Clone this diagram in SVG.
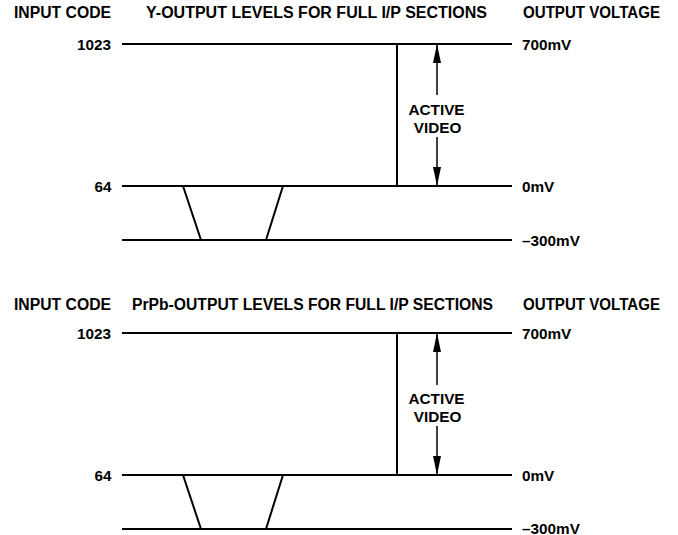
<svg xmlns="http://www.w3.org/2000/svg" width="678" height="535" viewBox="0 0 678 535">
<style>
.t{font-family:"Liberation Sans",Arial,sans-serif;font-weight:bold;font-size:15.3px;fill:#000}
.h{font-size:15.6px}
.e{text-anchor:end}
.m{text-anchor:middle}
.l{stroke:#000;stroke-width:2;fill:none}
.a{stroke:#000;stroke-width:1.5;fill:none;marker-end:url(#ah)}
</style>
<defs>
<marker id="ah" viewBox="0 0 19 8" refX="19" refY="4" markerWidth="19" markerHeight="8" markerUnits="userSpaceOnUse" orient="auto">
<path d="M0,0 L19,4 L0,8 z" fill="#000"/>
</marker>
</defs>
<rect width="678" height="535" fill="#fff"/>

<g id="y-section">
  <g id="y-headers">
    <text class="t h" x="14" y="18.3" textLength="97" lengthAdjust="spacingAndGlyphs">INPUT CODE</text>
    <text class="t h" x="146" y="18.3" textLength="341" lengthAdjust="spacingAndGlyphs">Y-OUTPUT LEVELS FOR FULL I/P SECTIONS</text>
    <text class="t h" x="523" y="18.3" textLength="137" lengthAdjust="spacingAndGlyphs">OUTPUT VOLTAGE</text>
  </g>
  <g id="y-level-1023">
    <line class="l" x1="122" y1="44" x2="512" y2="44"/>
    <text class="t e" x="111" y="50">1023</text>
    <text class="t" x="522" y="50">700mV</text>
  </g>
  <g id="y-level-64">
    <line class="l" x1="122" y1="186" x2="512" y2="186"/>
    <text class="t e" x="111.5" y="191.5">64</text>
    <text class="t" x="522" y="191.5">0mV</text>
  </g>
  <g id="y-level-minus300">
    <line class="l" x1="122" y1="240" x2="512" y2="240"/>
    <text class="t" x="522" y="245.5">–300mV</text>
  </g>
  <g id="y-sync-pulse">
    <polyline class="l" points="183,186 201,240 266,240 283,186"/>
  </g>
  <g id="y-active-edge">
    <line class="l" x1="397" y1="44" x2="397" y2="186"/>
  </g>
  <g id="y-active-video">
    <text class="t m" x="436.5" y="115">ACTIVE</text>
    <text class="t m" x="437.5" y="132.5">VIDEO</text>
  </g>
</g>

<g id="prpb-section">
  <g id="prpb-headers">
    <text class="t h" x="14" y="309.5" textLength="97" lengthAdjust="spacingAndGlyphs">INPUT CODE</text>
    <text class="t h" x="132" y="309.5" textLength="361" lengthAdjust="spacingAndGlyphs">PrPb-OUTPUT LEVELS FOR FULL I/P SECTIONS</text>
    <text class="t h" x="523" y="309.5" textLength="137" lengthAdjust="spacingAndGlyphs">OUTPUT VOLTAGE</text>
  </g>
  <g id="prpb-level-1023">
    <line class="l" x1="122" y1="333" x2="512" y2="333"/>
    <text class="t e" x="111" y="339">1023</text>
    <text class="t" x="522" y="339">700mV</text>
  </g>
  <g id="prpb-level-64">
    <line class="l" x1="122" y1="475" x2="512" y2="475"/>
    <text class="t e" x="111.5" y="480.5">64</text>
    <text class="t" x="522" y="480.5">0mV</text>
  </g>
  <g id="prpb-level-minus300">
    <line class="l" x1="122" y1="529" x2="512" y2="529"/>
    <text class="t" x="522" y="533.5">–300mV</text>
  </g>
  <g id="prpb-sync-pulse">
    <polyline class="l" points="183,475 201,529 266,529 283,475"/>
  </g>
  <g id="prpb-active-edge">
    <line class="l" x1="397" y1="333" x2="397" y2="475"/>
  </g>
  <g id="prpb-active-video">
    <text class="t m" x="436.5" y="404">ACTIVE</text>
    <text class="t m" x="437.5" y="421.5">VIDEO</text>
  </g>
</g>

<g id="connectors">
  <path class="a" d="M437,95 V44"/>
  <path class="a" d="M437,137 V186"/>
  <path class="a" d="M437,385 V333"/>
  <path class="a" d="M437,426 V475"/>
</g>
</svg>
